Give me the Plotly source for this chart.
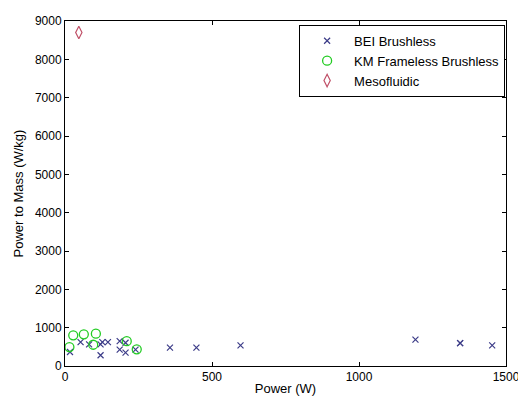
import plotly.graph_objects as go

bei_power = [17, 53, 82, 121, 127, 146, 121, 186, 206, 186, 206, 240, 357, 447, 597, 1192, 1344, 1344, 1453]
bei_ptm = [366, 621, 563, 563, 621, 621, 281, 647, 606, 427, 350, 427, 478, 478, 537, 690, 596, 596, 537]

km_power = [28, 64, 105, 15, 96, 210, 244]
km_ptm = [800, 826, 844, 494, 555, 647, 435]

meso_power = [47]
meso_ptm = [8700]

x_ticks = [0, 500, 1000, 1500]
y_ticks = [0, 1000, 2000, 3000, 4000, 5000, 6000, 7000, 8000, 9000]

fig = go.Figure()
fig.add_trace(go.Scatter(x=bei_power, y=bei_ptm, mode="markers", name="BEI Brushless",
                         marker=dict(symbol="x-thin-open", size=6, color="#3c3c88",
                                     line=dict(width=1.2, color="#3c3c88"))))
fig.add_trace(go.Scatter(x=km_power, y=km_ptm, mode="markers", name="KM Frameless Brushless",
                         marker=dict(symbol="circle-open", size=9, color="#22cc22",
                                     line=dict(width=1.3, color="#22cc22"))))
fig.add_trace(go.Scatter(x=meso_power, y=meso_ptm, mode="markers", name="Mesofluidic",
                         marker=dict(symbol="diamond-tall-open", size=9, color="#c05068",
                                     line=dict(width=1.2, color="#c05068"))))

axis_common = dict(showline=True, linecolor="black", linewidth=1, mirror="ticks",
                   ticks="inside", ticklen=4, tickcolor="black", showgrid=False,
                   zeroline=False, automargin=True,
                   tickfont=dict(family="Liberation Sans, Arial", size=12, color="black"))

fig.update_layout(
    width=518, height=396,
    margin=dict(l=57, r=17, t=6, b=38),
    paper_bgcolor="white", plot_bgcolor="white",
    font=dict(family="Liberation Sans, Arial", size=12, color="black"),
    xaxis=dict(range=[0, 1500], tickvals=x_ticks, ticktext=[str(v) for v in x_ticks],
               title=dict(text="Power (W)", font=dict(size=13), standoff=0), **axis_common),
    yaxis=dict(range=[0, 9000], tickvals=y_ticks, ticktext=[str(v) for v in y_ticks],
               title=dict(text="Power to Mass (W/kg)", font=dict(size=13), standoff=8), **axis_common),
    legend=dict(x=0.998, y=0.989, xanchor="right", yanchor="top",
                bgcolor="white", bordercolor="black", borderwidth=1,
                font=dict(size=13), tracegroupgap=0, itemwidth=44),
    showlegend=True,
)

fig.write_html("out.html")
